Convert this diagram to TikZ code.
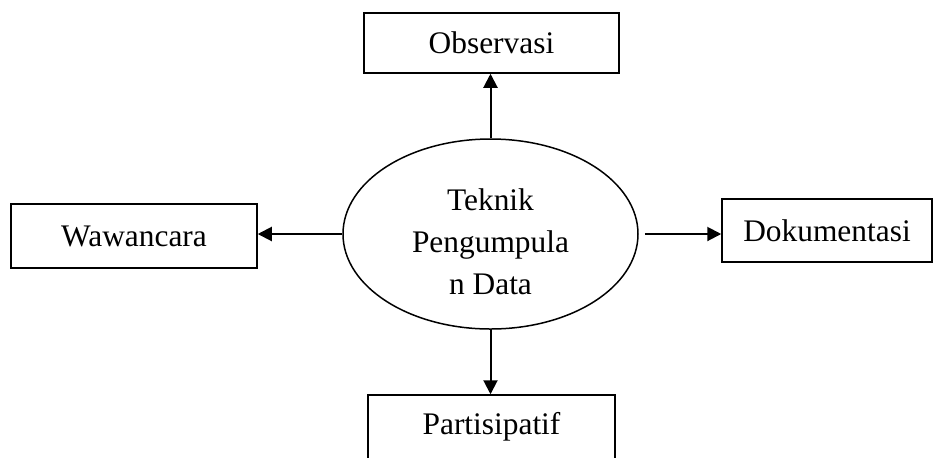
\documentclass[tikz,border=0pt]{standalone}
\usepackage{fontspec}
\setmainfont{Liberation Serif}
\usetikzlibrary{shapes.geometric,arrows.meta}
\tikzset{
  box/.style={draw, line width=0.75pt, rectangle, inner sep=0pt, align=center,
    font=\fontsize{15.7}{21}\selectfont},
  centre/.style={draw, line width=0.75pt, ellipse, inner sep=0pt,
    minimum width=147.5pt, minimum height=95pt,
    font=\fontsize{15.7}{21}\selectfont},
  conn/.style={line width=1pt, -{Triangle[length=7pt,width=7pt]}}
}
\begin{document}
\begin{tikzpicture}[x=0.5pt,y=-0.5pt]
\clip (0,0) rectangle (933,457);
\node[centre] (c) at (490.5,234) {\raisebox{-5pt}[\height][\depth]{\begin{tabular}{@{}c@{}}Teknik\\Pengumpula\\n Data\end{tabular}}};
\node[box, minimum width=127.5pt, minimum height=30pt] (obs) at (491.5,43) {Observasi};
\node[box, minimum width=123pt, minimum height=32pt] (waw) at (134,236) {Wawancara};
\node[box, minimum width=105pt, minimum height=31.5pt] (dok) at (827,230.5) {Dokumentasi};
\node[box, minimum width=123.5pt, minimum height=32pt] (par) at (491.5,427) {Partisipatif};
\draw[conn] (c.north) -- (c.north |- obs.south);
\draw[conn] (c.west) -- (c.west -| waw.east);
\draw[conn, shorten <=3pt] (c.east) -- (c.east -| dok.west);
\draw[conn] (c.south) -- (c.south |- par.north);
\end{tikzpicture}
\end{document}
